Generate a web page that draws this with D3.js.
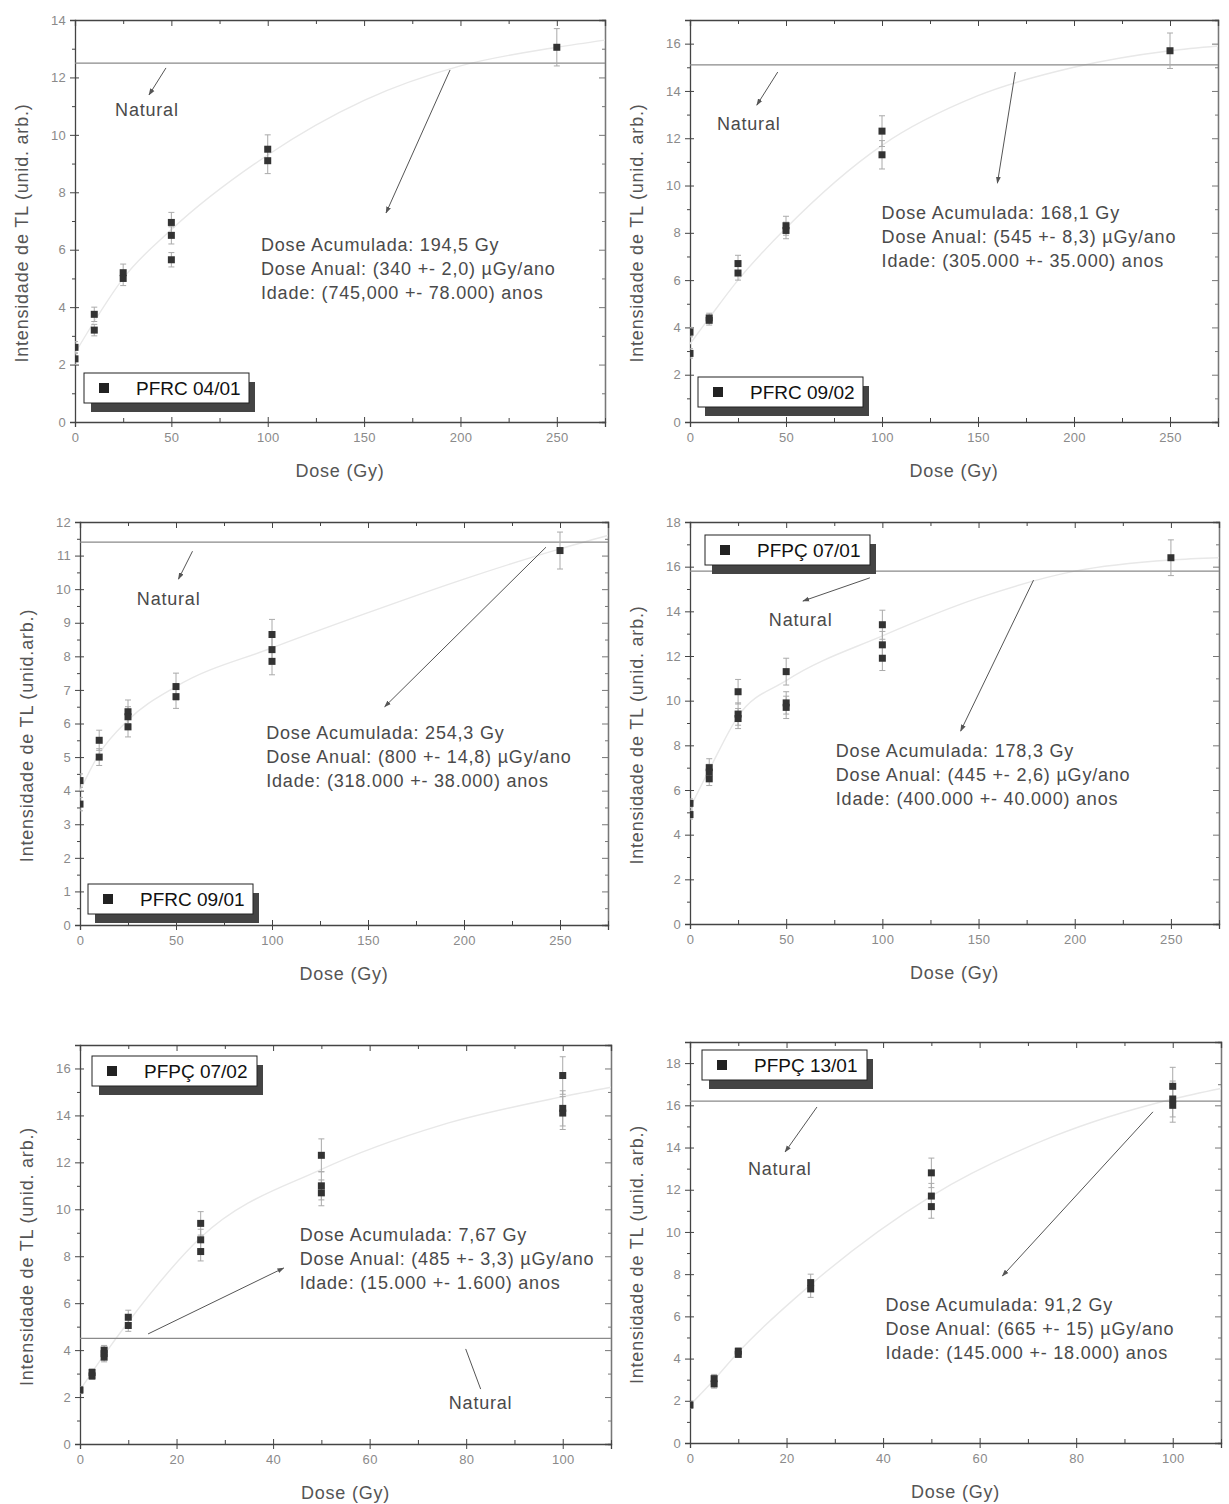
<!DOCTYPE html>
<html lang="pt">
<head>
<meta charset="utf-8">
<title>Curvas de crescimento TL</title>
<script src="https://cdn.jsdelivr.net/npm/d3@7/dist/d3.min.js"></script>
<style>
  body { margin: 0; background: #fff; }
  svg { font-family: "Liberation Sans", Arial, sans-serif; }
  .tick text { fill: #8a8a8a; font-size: 13px; letter-spacing: 0.3px; }
  .axis path, .axis line { stroke: #444; }
  .axis path { stroke-width: 1.3; }
  .inner path { stroke: none; }
  .rt path, .rt line { stroke: #777; }
  .title { fill: #555; font-size: 18px; letter-spacing: 0.8px; }
  .note { fill: #4a4a4a; font-size: 18px; letter-spacing: 0.8px; }
  .fit { fill: none; stroke: #e8e8e8; stroke-width: 1.4; }
  .natural { stroke: #8a8a8a; stroke-width: 1.2; }
  .err { stroke: #aaa; stroke-width: 1; }
  .pt { fill: #333; }
  .arrow { stroke: #555; stroke-width: 1; fill: none; }
</style>
</head>
<body>
<script>
// ---- PFRC 04/01
var p1Dose = [0, 0, 10, 10, 25, 25, 50, 50, 50, 100, 100, 250];
var p1TL   = [2.6, 2.2, 3.75, 3.2, 5.2, 5.0, 6.95, 6.5, 5.65, 9.5, 9.1, 13.05];
var p1Err  = [0.2, 0.2, 0.25, 0.2, 0.3, 0.25, 0.35, 0.3, 0.25, 0.5, 0.45, 0.65];
var p1Natural = 12.5;
var p1FitDose = [0, 10, 25, 50, 100, 150, 200, 250, 275];
var p1FitTL   = [2.4, 3.5, 5.0, 6.7, 9.3, 11.2, 12.4, 13.05, 13.3];
var p1Text = ["Dose Acumulada: 194,5 Gy", "Dose Anual: (340 +- 2,0) \u00b5Gy/ano", "Idade: (745,000 +- 78.000) anos"];

// ---- PFRC 09/02
var p2Dose = [0, 0, 10, 10, 25, 25, 50, 50, 100, 100, 250];
var p2TL   = [3.8, 2.9, 4.4, 4.3, 6.7, 6.3, 8.3, 8.1, 12.3, 11.3, 15.7];
var p2Err  = [0.2, 0.2, 0.2, 0.2, 0.35, 0.3, 0.4, 0.35, 0.65, 0.6, 0.75];
var p2Natural = 15.1;
var p2FitDose = [0, 10, 25, 50, 100, 150, 200, 250, 275];
var p2FitTL   = [3.3, 4.4, 6.0, 8.2, 11.7, 13.8, 15.0, 15.7, 15.9];
var p2Text = ["Dose Acumulada: 168,1 Gy", "Dose Anual: (545 +- 8,3) \u00b5Gy/ano", "Idade: (305.000 +- 35.000) anos"];

// ---- PFRC 09/01
var p3Dose = [0, 0, 10, 10, 25, 25, 25, 50, 50, 100, 100, 100, 250];
var p3TL   = [4.3, 3.6, 5.5, 5.0, 6.35, 6.2, 5.9, 7.1, 6.8, 8.65, 8.2, 7.85, 11.15];
var p3Err  = [0.2, 0.2, 0.3, 0.25, 0.35, 0.3, 0.3, 0.4, 0.35, 0.45, 0.4, 0.4, 0.55];
var p3Natural = 11.4;
var p3FitDose = [0, 10, 25, 50, 100, 150, 200, 250, 275];
var p3FitTL   = [4.0, 5.1, 6.1, 7.1, 8.25, 9.3, 10.3, 11.2, 11.6];
var p3Text = ["Dose Acumulada: 254,3 Gy", "Dose Anual: (800 +- 14,8) \u00b5Gy/ano", "Idade: (318.000 +- 38.000) anos"];

// ---- PFPÇ 07/01
var p4Dose = [0, 0, 10, 10, 10, 25, 25, 25, 50, 50, 50, 100, 100, 100, 250];
var p4TL   = [5.4, 4.9, 7.0, 6.8, 6.5, 10.4, 9.4, 9.2, 11.3, 9.9, 9.7, 13.4, 12.5, 11.9, 16.4];
var p4Err  = [0.2, 0.2, 0.4, 0.35, 0.3, 0.55, 0.5, 0.45, 0.6, 0.5, 0.5, 0.65, 0.6, 0.55, 0.8];
var p4Natural = 15.8;
var p4FitDose = [0, 10, 25, 50, 100, 150, 200, 250, 275];
var p4FitTL   = [5.2, 6.9, 9.3, 10.9, 12.9, 14.6, 15.8, 16.3, 16.4];
var p4Text = ["Dose Acumulada: 178,3 Gy", "Dose Anual: (445 +- 2,6) \u00b5Gy/ano", "Idade: (400.000 +- 40.000) anos"];

// ---- PFPÇ 07/02
var p5Dose = [0, 2.5, 2.5, 5, 5, 5, 10, 10, 25, 25, 25, 50, 50, 50, 100, 100, 100];
var p5TL   = [2.3, 3.05, 2.9, 4.0, 3.85, 3.7, 5.4, 5.05, 9.4, 8.7, 8.2, 12.3, 11.0, 10.7, 15.7, 14.3, 14.1];
var p5Err  = [0.15, 0.15, 0.15, 0.2, 0.2, 0.2, 0.3, 0.25, 0.5, 0.45, 0.4, 0.7, 0.6, 0.55, 0.8, 0.75, 0.7];
var p5Natural = 4.5;
var p5FitDose = [0, 5, 10, 25, 50, 75, 100, 110];
var p5FitTL   = [2.3, 3.8, 5.2, 8.8, 11.7, 13.6, 14.8, 15.2];
var p5Text = ["Dose Acumulada: 7,67 Gy", "Dose Anual: (485 +- 3,3) \u00b5Gy/ano", "Idade: (15.000 +- 1.600) anos"];

// ---- PFPÇ 13/01
var p6Dose = [0, 5, 5, 10, 10, 25, 25, 50, 50, 50, 100, 100, 100];
var p6TL   = [1.8, 3.05, 2.8, 4.35, 4.2, 7.6, 7.3, 12.8, 11.7, 11.2, 16.9, 16.3, 16.0];
var p6Err  = [0.15, 0.2, 0.2, 0.15, 0.15, 0.4, 0.4, 0.7, 0.6, 0.55, 0.9, 0.85, 0.8];
var p6Natural = 16.2;
var p6FitDose = [0, 5, 10, 25, 50, 75, 100, 110];
var p6FitTL   = [1.8, 3.0, 4.3, 7.5, 11.7, 14.5, 16.3, 16.8];
var p6Text = ["Dose Acumulada: 91,2 Gy", "Dose Anual: (665 +- 15) \u00b5Gy/ano", "Idade: (145.000 +- 18.000) anos"];

var sampleNames = ["PFRC 04/01", "PFRC 09/02", "PFRC 09/01", "PFP\u00c7 07/01", "PFP\u00c7 07/02", "PFP\u00c7 13/01"];
var yTitles = ["Intensidade de TL (unid. arb.)", "Intensidade de TL (unid. arb.)", "Intensidade de TL (unid.arb.)",
               "Intensidade de TL (unid. arb.)", "Intensidade de TL (unid. arb.)", "Intensidade de TL (unid. arb.)"];

// axis ranges and tick steps: [max, major, minor]
var xRanges = [[275, 50, 25], [275, 50, 25], [275, 50, 25], [275, 50, 25], [110, 20, 10], [110, 20, 10]];
var yRanges = [[14, 2, 1], [17, 2, 1], [12, 1, 0.5], [18, 2, 1], [17, 2, 1], [19, 2, 1]];

// annotation anchors in data units: natural label, natural arrow (from,to), dose arrow (from,to), dose text
var natLabel = [[20.8, 10.66], [14, 12.35], [29.6, 9.52], [41, 13.35], [76.4, 1.49], [12, 12.7]];
var natArrow = [[47.2, 12.33, 38.4, 11.39], [45.7, 14.8, 34.8, 13.4], [58.6, 11.13, 51.3, 10.3],
                [93.5, 15.5, 58.7, 14.46], [79.9, 4.05, 83.0, 2.34], [26.3, 15.92, 19.7, 13.79]];
var doseArrow = [[194.6, 12.26, 161.4, 7.28], [169.4, 14.8, 160.1, 10.1], [242.7, 11.25, 158.7, 6.5],
                 [178.6, 15.4, 140.7, 8.64], [14.1, 4.69, 42.2, 7.5], [95.9, 15.69, 64.7, 7.91]];
var doseLabel = [[96.5, 5.96], [99.8, 8.58], [97, 5.55], [75.8, 7.48], [45.5, 8.65], [40.5, 6.26]];

// page layout (pixels)
var frames = [
  {left: 75, right: 605, top: 20, bottom: 422, lx: 84, ly: 373},
  {left: 690, right: 1218, top: 20, bottom: 422, lx: 698, ly: 377},
  {left: 80, right: 608, top: 522, bottom: 925, lx: 88, ly: 884},
  {left: 690, right: 1219, top: 522, bottom: 924, lx: 705, ly: 535},
  {left: 80, right: 611, top: 1045, bottom: 1444, lx: 92, ly: 1056},
  {left: 690, right: 1221, top: 1042, bottom: 1443, lx: 702, ly: 1050}
];

var series = [
  [p1Dose, p1TL, p1Err, p1Natural, p1FitDose, p1FitTL, p1Text],
  [p2Dose, p2TL, p2Err, p2Natural, p2FitDose, p2FitTL, p2Text],
  [p3Dose, p3TL, p3Err, p3Natural, p3FitDose, p3FitTL, p3Text],
  [p4Dose, p4TL, p4Err, p4Natural, p4FitDose, p4FitTL, p4Text],
  [p5Dose, p5TL, p5Err, p5Natural, p5FitDose, p5FitTL, p5Text],
  [p6Dose, p6TL, p6Err, p6Natural, p6FitDose, p6FitTL, p6Text]
];

var svg = d3.select("body").append("svg")
  .attr("width", 1229)
  .attr("height", 1504);

var defs = svg.append("defs");
defs.append("marker")
  .attr("id", "head")
  .attr("viewBox", "0 0 10 10")
  .attr("refX", 9).attr("refY", 5)
  .attr("markerWidth", 7).attr("markerHeight", 7)
  .attr("orient", "auto")
  .append("path")
  .attr("d", "M0,1.5L10,5L0,8.5Z")
  .attr("fill", "#555");

function steps(max, step) {
  return d3.range(0, max + 1e-9, step);
}

series.forEach(function(s, i) {
  var f = frames[i];
  var w = f.right - f.left, h = f.bottom - f.top;
  var xr = xRanges[i], yr = yRanges[i];

  var x = d3.scaleLinear().domain([0, xr[0]]).range([0, w]);
  var y = d3.scaleLinear().domain([0, yr[0]]).range([h, 0]);

  var g = svg.append("g").attr("transform", "translate(" + f.left + "," + f.top + ")");

  defs.append("clipPath").attr("id", "clip" + i)
    .append("rect").attr("width", w).attr("height", h);

  var xMajor = steps(xr[0] - 1, xr[1]);
  var xMinor = steps(xr[0], xr[2]).filter(function(v) { return xMajor.indexOf(v) < 0; });
  var yMajor = steps(yr[0], yr[1]);
  var yMinor = steps(yr[0], yr[2]).filter(function(v) { return yMajor.indexOf(v) < 0; });
  var fmt = d3.format("d");

  // right & top frame
  g.append("g").attr("class", "axis rt").attr("transform", "translate(" + w + ",0)")
    .call(d3.axisLeft(y).tickValues(yMajor).tickSize(6).tickFormat(""))
    .call(function(a) { a.select("path").attr("stroke", "#aaa"); });
  g.append("g").attr("class", "axis rt inner").attr("transform", "translate(" + w + ",0)")
    .call(d3.axisLeft(y).tickValues(yMinor).tickSize(3).tickFormat(""));
  g.append("g").attr("class", "axis")
    .call(d3.axisBottom(x).tickValues(xMajor).tickSize(6).tickFormat(""));
  g.append("g").attr("class", "axis inner")
    .call(d3.axisBottom(x).tickValues(xMinor).tickSize(4).tickFormat(""));

  // bottom axis, ticks crossing
  g.append("g").attr("class", "axis").attr("transform", "translate(0," + h + ")")
    .call(d3.axisBottom(x).tickValues(xMajor).tickSize(5).tickPadding(6).tickFormat(fmt));
  g.append("g").attr("class", "axis inner").attr("transform", "translate(0," + h + ")")
    .call(d3.axisBottom(x).tickValues(xMajor).tickSize(-5).tickFormat(""));
  g.append("g").attr("class", "axis inner").attr("transform", "translate(0," + h + ")")
    .call(d3.axisBottom(x).tickValues(xMinor).tickSize(-4).tickFormat(""));

  // left axis, ticks crossing
  g.append("g").attr("class", "axis")
    .call(d3.axisLeft(y).tickValues(yMajor).tickSize(5).tickPadding(4).tickFormat(fmt));
  g.append("g").attr("class", "axis inner")
    .call(d3.axisLeft(y).tickValues(yMajor).tickSize(-4).tickFormat(""));
  g.append("g").attr("class", "axis inner")
    .call(d3.axisLeft(y).tickValues(yMinor).tickSize(3).tickFormat(""));

  // axis titles
  g.append("text").attr("class", "title")
    .attr("x", w / 2).attr("y", h + 55)
    .attr("text-anchor", "middle")
    .text("Dose (Gy)");
  g.append("text").attr("class", "title")
    .attr("transform", "translate(-47," + (h / 2 + 12) + ") rotate(-90)")
    .attr("text-anchor", "middle")
    .text(yTitles[i]);

  var plot = g.append("g").attr("clip-path", "url(#clip" + i + ")");

  // fitted growth curve (faint)
  var fitPts = s[4].map(function(d, k) { return [d, s[5][k]]; });
  plot.append("path").attr("class", "fit")
    .attr("d", d3.line().x(function(d) { return x(d[0]); }).y(function(d) { return y(d[1]); })
      .curve(d3.curveMonotoneX)(fitPts));

  // natural level
  plot.append("line").attr("class", "natural")
    .attr("x1", 0).attr("x2", w)
    .attr("y1", y(s[3])).attr("y2", y(s[3]));

  var pts = s[0].map(function(d, k) { return {dose: d, tl: s[1][k], err: s[2][k]}; });

  var eb = plot.selectAll(".eb").data(pts).enter().append("g");
  eb.append("line").attr("class", "err")
    .attr("x1", function(d) { return x(d.dose); }).attr("x2", function(d) { return x(d.dose); })
    .attr("y1", function(d) { return y(d.tl - d.err); }).attr("y2", function(d) { return y(d.tl + d.err); });
  eb.append("line").attr("class", "err")
    .attr("x1", function(d) { return x(d.dose) - 3; }).attr("x2", function(d) { return x(d.dose) + 3; })
    .attr("y1", function(d) { return y(d.tl + d.err); }).attr("y2", function(d) { return y(d.tl + d.err); });
  eb.append("line").attr("class", "err")
    .attr("x1", function(d) { return x(d.dose) - 3; }).attr("x2", function(d) { return x(d.dose) + 3; })
    .attr("y1", function(d) { return y(d.tl - d.err); }).attr("y2", function(d) { return y(d.tl - d.err); });

  plot.selectAll(".pt").data(pts).enter().append("rect")
    .attr("class", "pt")
    .attr("x", function(d) { return x(d.dose) - 3.5; })
    .attr("y", function(d) { return y(d.tl) - 3.5; })
    .attr("width", 7).attr("height", 7);

  // annotations
  var na = natArrow[i], da = doseArrow[i];
  g.append("line").attr("class", "arrow")
    .attr("x1", x(na[0])).attr("y1", y(na[1]))
    .attr("x2", x(na[2])).attr("y2", y(na[3]))
    .attr("marker-end", i === 4 ? null : "url(#head)");
  g.append("line").attr("class", "arrow")
    .attr("x1", x(da[0])).attr("y1", y(da[1]))
    .attr("x2", x(da[2])).attr("y2", y(da[3]))
    .attr("marker-end", "url(#head)");
  g.append("text").attr("class", "note")
    .attr("x", x(natLabel[i][0])).attr("y", y(natLabel[i][1]))
    .text("Natural");
  g.append("text").attr("class", "note")
    .selectAll("tspan").data(s[6]).enter().append("tspan")
    .attr("x", x(doseLabel[i][0]))
    .attr("y", function(d, k) { return y(doseLabel[i][1]) + k * 24; })
    .text(function(d) { return d; });

  // legend box with shadow
  var lg = svg.append("g").attr("transform", "translate(" + f.lx + "," + f.ly + ")");
  lg.append("rect").attr("x", 7).attr("y", 9).attr("width", 164).attr("height", 30).attr("fill", "#444");
  lg.append("rect").attr("width", 165).attr("height", 30)
    .attr("fill", "#fff").attr("stroke", "#222").attr("stroke-width", 1);
  lg.append("rect").attr("x", 15).attr("y", 10).attr("width", 10).attr("height", 10).attr("fill", "#222");
  lg.append("text").attr("x", 52).attr("y", 22)
    .attr("font-size", 19).attr("fill", "#111")
    .text(sampleNames[i]);
});
</script>
</body>
</html>
